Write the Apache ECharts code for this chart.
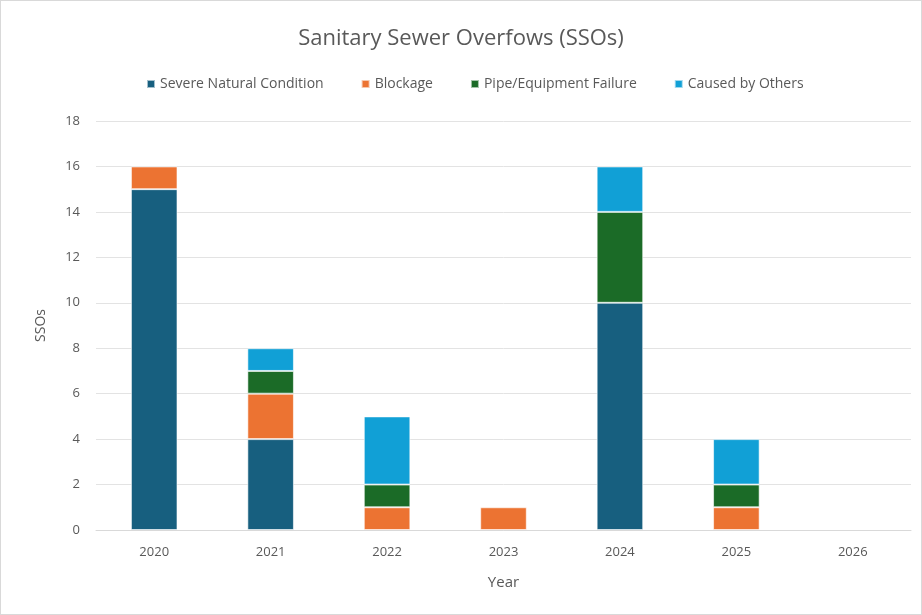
<!DOCTYPE html>
<html><head><meta charset="utf-8">
<script src="https://cdn.jsdelivr.net/npm/echarts@6/dist/echarts.min.js"></script>
<style>html,body{margin:0;padding:0;background:#fff}#c{position:absolute;left:0;top:0;width:920px;height:613px;border:1px solid #d9d9d9}</style>
</head><body><div id="c"></div>
<script>
const categories = ['2020','2021','2022','2023','2024','2025','2026'];
const severe = [15, 4, 0, 0, 10, 0, 0];
const blockage = [1, 2, 1, 1, 0, 1, 0];
const pipe = [0, 1, 1, 0, 4, 1, 0];
const others = [0, 1, 3, 0, 2, 2, 0];
const yTicks = [0,2,4,6,8,10,12,14,16,18];

const chart = echarts.init(document.getElementById('c'));
const font = 'Open Sans';
function s(name, data, color){
  return {name, type:'bar', stack:'a', data: data.map(v=>v===0?null:v), barWidth:'40%',
    itemStyle:{color, borderColor:'rgba(255,255,255,0.6)', borderWidth:1}};
}
chart.setOption({
  animation:false,
  title:{text:'Sanitary Sewer Overfows (SSOs)', left:'center', top:22,
    textStyle:{fontFamily:font, fontSize:22, fontWeight:'normal', color:'#595959'}},
  legend:{top:71, left:140, itemWidth:8, itemHeight:8, itemGap:37, icon:'rect',
    textStyle:{fontFamily:font, fontSize:14, color:'#595959'}},
  grid:{left:95, right:10, top:120, bottom:84},
  xAxis:{type:'category', data:categories, name:'Year', nameLocation:'middle', nameGap:45,
    nameTextStyle:{fontFamily:font, fontSize:15, color:'#595959'},
    axisTick:{show:false}, axisLine:{lineStyle:{color:'#d9d9d9'}},
    axisLabel:{fontFamily:font, fontSize:13, color:'#595959', margin:16}},
  yAxis:{type:'value', min:0, max:18, interval:2, name:'SSOs', nameLocation:'middle', nameGap:48,
    nameTextStyle:{fontFamily:font, fontSize:14, color:'#595959'},
    splitLine:{lineStyle:{color:'#e3e3e3'}},
    axisLabel:{fontFamily:font, fontSize:13, color:'#595959', margin:16,
      formatter:v=>yTicks.includes(v)?String(v):''}},
  series:[
    s('Severe Natural Condition', severe, '#175f7f'),
    s('Blockage', blockage, '#ec7332'),
    s('Pipe/Equipment Failure', pipe, '#1b6b27'),
    s('Caused by Others', others, '#11a0d6')
  ]
});
</script></body></html>
